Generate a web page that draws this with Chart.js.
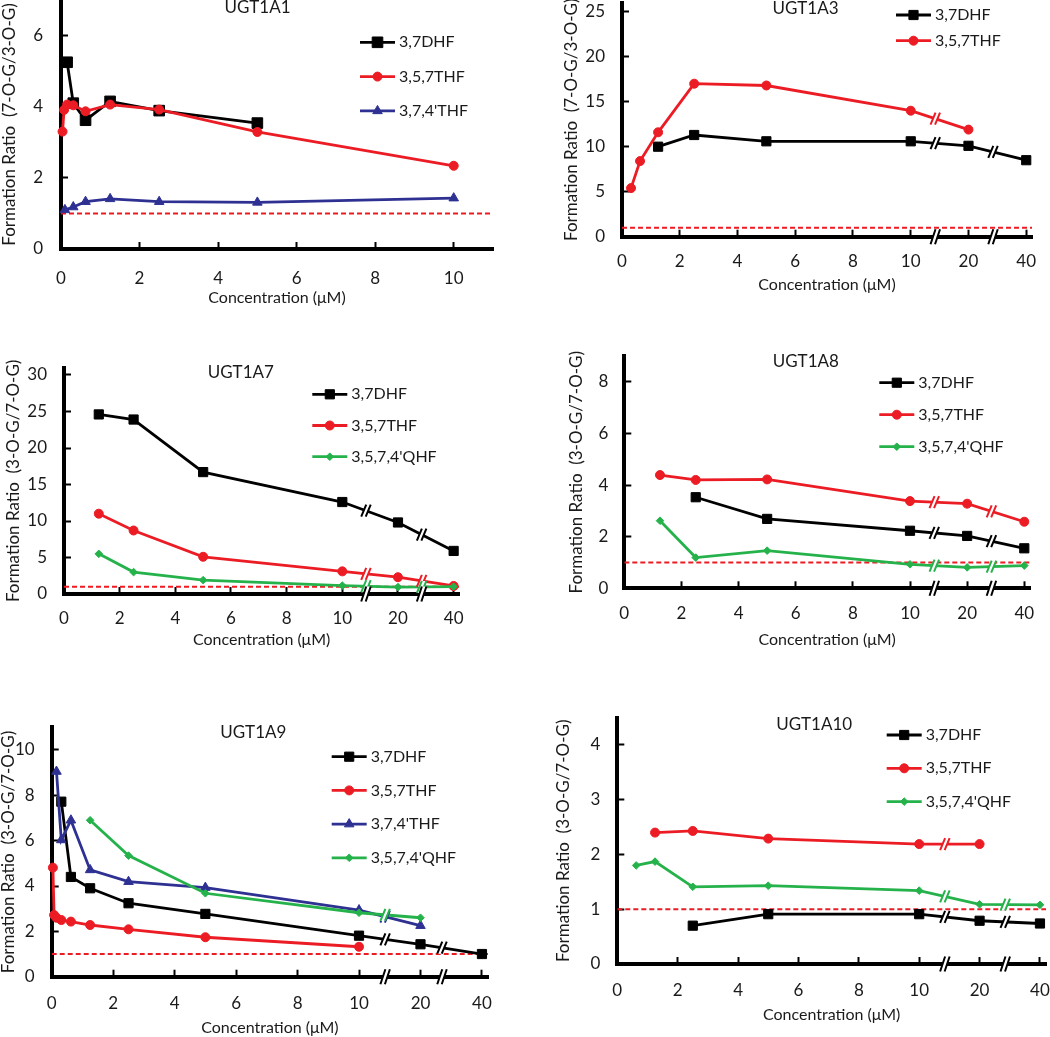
<!DOCTYPE html>
<html>
<head>
<meta charset="utf-8">
<script src="https://cdn.jsdelivr.net/npm/chart.js@4.4.0/dist/chart.umd.min.js"></script>
<style>
  body { margin: 0; background: #fff; overflow: hidden; }
  #page { position: relative; width: 1050px; height: 1037px; overflow: hidden; background: #fff; }
  #page canvas { position: absolute; }
</style>
</head>
<body>
<div id="page"></div>
<script>
const RED = '#ec1c24', BLUE = '#2e3192', GREEN = '#25b24b', TXT = '#1a1a1a';

// concentrations where the x axis is broken (10 | 20 | 40 sit 2 units apart)
const brokenConc = [10, 20, 40];
const refRatio = 1;

const xTicksPlain = [0, 2, 4, 6, 8, 10];
const xTicksBroken = [0, 2, 4, 6, 8, 10, 20, 40];

// UGT1A1  (7-O-G/3-O-G)
const a1_yTicks = [0, 2, 4, 6];
const a1_dhf_conc = [0.156, 0.3125, 0.625, 1.25, 2.5, 5];
const a1_dhf_ratio = [5.25, 4.1, 3.62, 4.15, 3.89, 3.54];
const a1_thf_conc = [0.039, 0.078, 0.156, 0.3125, 0.625, 1.25, 2.5, 5, 10];
const a1_thf_ratio = [3.3, 3.91, 4.06, 4.04, 3.87, 4.06, 3.92, 3.29, 2.34];
const a1_t74_conc = [0.1, 0.3125, 0.625, 1.25, 2.5, 5, 10];
const a1_t74_ratio = [1.1, 1.18, 1.33, 1.41, 1.33, 1.31, 1.43];

// UGT1A3  (7-O-G/3-O-G)
const a3_yTicks = [0, 5, 10, 15, 20, 25];
const a3_dhf_conc = [1.25, 2.5, 5, 10, 20, 40];
const a3_dhf_ratio = [10.0, 11.3, 10.6, 10.6, 10.1, 8.5];
const a3_thf_conc = [0.3125, 0.625, 1.25, 2.5, 5, 10, 20];
const a3_thf_ratio = [5.4, 8.4, 11.6, 17.0, 16.8, 14.0, 11.9];

// UGT1A7  (3-O-G/7-O-G)
const a7_yTicks = [0, 5, 10, 15, 20, 25, 30];
const a7_conc = [1.25, 2.5, 5, 10, 20, 40];
const a7_dhf_ratio = [24.6, 23.9, 16.7, 12.6, 9.8, 5.9];
const a7_thf_ratio = [11.0, 8.7, 5.1, 3.1, 2.3, 1.1];
const a7_qhf_ratio = [5.5, 3.0, 1.9, 1.15, 0.95, 1.0];

// UGT1A8  (3-O-G/7-O-G)
const a8_yTicks = [0, 2, 4, 6, 8];
const a8_dhf_conc = [2.5, 5, 10, 20, 40];
const a8_dhf_ratio = [3.53, 2.69, 2.23, 2.03, 1.55];
const a8_conc = [1.25, 2.5, 5, 10, 20, 40];
const a8_thf_ratio = [4.39, 4.2, 4.22, 3.38, 3.28, 2.58];
const a8_qhf_ratio = [2.62, 1.19, 1.46, 0.93, 0.81, 0.88];

// UGT1A9  (3-O-G/7-O-G)
const a9_yTicks = [0, 2, 4, 6, 8, 10];
const a9_dhf_conc = [0.3125, 0.625, 1.25, 2.5, 5, 10, 20, 40];
const a9_dhf_ratio = [7.72, 4.4, 3.9, 3.24, 2.77, 1.81, 1.43, 1.0];
const a9_thf_conc = [0.039, 0.078, 0.156, 0.3125, 0.625, 1.25, 2.5, 5, 10];
const a9_thf_ratio = [4.81, 2.72, 2.6, 2.5, 2.43, 2.28, 2.09, 1.74, 1.32];
const a9_t74_conc = [0.156, 0.3125, 0.625, 1.25, 2.5, 5, 10, 20];
const a9_t74_ratio = [9.05, 6.03, 6.9, 4.71, 4.19, 3.93, 2.94, 2.25];
const a9_qhf_conc = [1.25, 2.5, 5, 10, 20];
const a9_qhf_ratio = [6.9, 5.34, 3.68, 2.82, 2.6];

// UGT1A10  (3-O-G/7-O-G)
const a10_yTicks = [0, 1, 2, 3, 4];
const a10_dhf_conc = [2.5, 5, 10, 20, 40];
const a10_dhf_ratio = [0.70, 0.91, 0.91, 0.79, 0.74];
const a10_thf_conc = [1.25, 2.5, 5, 10, 20];
const a10_thf_ratio = [2.40, 2.43, 2.29, 2.19, 2.19];
const a10_qhf_conc = [0.625, 1.25, 2.5, 5, 10, 20, 40];
const a10_qhf_ratio = [1.80, 1.87, 1.41, 1.43, 1.34, 1.09, 1.08];

// map a concentration onto the (partly broken) x axis
function xPos(c) {
    if (c <= brokenConc[0]) return c;
    let i = brokenConc.findIndex(v => v >= c);
    const lo = brokenConc[i - 1], hi = brokenConc[i];
    return brokenConc[0] + 2 * (i - 1) + 2 * (c - lo) / (hi - lo);
}

const seriesStyle = {
    dhf: { label: '3,7DHF', color: '#000', pointStyle: 'rect', radius: 6.5, order: 4 },
    thf: { label: '3,5,7THF', color: RED, pointStyle: 'circle', radius: 4.5, order: 3 },
    t74: { label: "3,7,4'THF", color: BLUE, pointStyle: 'triangle', radius: 5.5, order: 2 },
    qhf: { label: "3,5,7,4'QHF", color: GREEN, pointStyle: 'rectRot', radius: 3.8, order: 1 }
};

function series(key, conc, ratio, radius) {
    const s = seriesStyle[key];
    return {
        key: key,
        label: s.label,
        data: conc.map((c, i) => ({ x: xPos(c), y: ratio[i] })),
        borderColor: s.color,
        backgroundColor: s.color,
        borderWidth: 2.8,
        pointStyle: s.pointStyle,
        pointRadius: radius || s.radius,
        pointBorderWidth: 1,
        order: s.order,
        clip: false
    };
}

function refLine(xMax) {
    return {
        isRef: true,
        data: [{ x: 0, y: refRatio }, { x: xMax, y: refRatio }],
        borderColor: RED,
        borderWidth: 2,
        borderDash: [5, 3],
        pointRadius: 0,
        order: 10
    };
}

function drawBreak(ctx, x, y, h, color) {
    const g = 4.5, s = 2.5;
    ctx.fillStyle = '#fff';
    ctx.beginPath();
    ctx.moveTo(x - g / 2 - s, y + h);
    ctx.lineTo(x - g / 2 + s, y - h);
    ctx.lineTo(x + g / 2 + s, y - h);
    ctx.lineTo(x + g / 2 - s, y + h);
    ctx.closePath();
    ctx.fill();
    ctx.strokeStyle = color;
    ctx.lineWidth = 2;
    ctx.beginPath();
    ctx.moveTo(x - g / 2 - s, y + h);
    ctx.lineTo(x - g / 2 + s, y - h);
    ctx.moveTo(x + g / 2 - s, y + h);
    ctx.lineTo(x + g / 2 + s, y - h);
    ctx.stroke();
}

// "//" marks on the axis and on every line that crosses a break
const breakPlugin = {
    id: 'breaks',
    afterDraw(chart, args, opts) {
        if (!opts.at || !opts.at.length) return;
        const ctx = chart.ctx, xs = chart.scales.x, ys = chart.scales.y;
        ctx.save();
        opts.at.forEach(b => {
            const px = xs.getPixelForValue(b);
            chart.data.datasets.forEach(ds => {
                if (ds.isRef) return;
                const p = ds.data;
                for (let k = 0; k < p.length - 1; k++) {
                    if (p[k].x < b && p[k + 1].x > b) {
                        const t = (b - p[k].x) / (p[k + 1].x - p[k].x);
                        const yv = p[k].y + t * (p[k + 1].y - p[k].y);
                        drawBreak(ctx, px, ys.getPixelForValue(yv), 6, ds.borderColor);
                    }
                }
            });
            drawBreak(ctx, px, ys.bottom, 7.5, '#000');
        });
        ctx.restore();
    }
};

// panel title and the in-plot legend
const panelTextPlugin = {
    id: 'panelText',
    afterDraw(chart, args, o) {
        const ctx = chart.ctx, a = chart.chartArea;
        ctx.save();
        ctx.fillStyle = TXT;
        ctx.font = '17px Lato';
        ctx.textAlign = 'center';
        ctx.textBaseline = 'middle';
        ctx.fillText(o.title, a.left + o.titleX, a.top + o.titleY);
        chart.data.datasets.filter(d => !d.isRef).forEach((ds, i) => {
            const x = a.left + o.legX, y = a.top + o.legY + i * o.legGap;
            ctx.strokeStyle = ds.borderColor;
            ctx.lineWidth = 2.8;
            ctx.beginPath();
            ctx.moveTo(x, y);
            ctx.lineTo(x + 35, y);
            ctx.stroke();
            ctx.fillStyle = ds.borderColor;
            ctx.lineWidth = 1;
            Chart.helpers.drawPoint(ctx, { pointStyle: ds.pointStyle, radius: ds.pointRadius, borderWidth: 1, rotation: 0 }, x + 17.5, y);
            ctx.fillStyle = TXT;
            ctx.textAlign = 'left';
            ctx.font = '16px Lato';
            ctx.fillText(ds.label, x + 39, y);
        });
        ctx.restore();
    }
};

Chart.defaults.font.family = 'Lato, "Open Sans", sans-serif';

function makePanel(p) {
    const g = p.geom;
    const yW = g.yTitle + 10.2, xH = g.xTitle + 9.6, PAD = 40;
    const left = Math.floor(g.l - yW), top = Math.floor(g.t - PAD);
    const w = Math.ceil(g.r + PAD - left), h = Math.ceil(g.b + xH - top);
    const cv = document.createElement('canvas');
    cv.width = w; cv.height = h;
    cv.style.left = left + 'px';
    cv.style.top = top + 'px';
    cv.style.width = w + 'px';
    cv.style.height = h + 'px';
    document.getElementById('page').appendChild(cv);

    const xLabels = p.xTicks;
    const datasets = p.series.concat([refLine(p.xMax)]);

    new Chart(cv.getContext('2d'), {
        type: 'line',
        data: { datasets: datasets },
        plugins: [breakPlugin, panelTextPlugin],
        options: {
            responsive: false,
            animation: false,
            devicePixelRatio: 1,
            layout: {
                padding: {
                    left: g.l - yW - left,
                    top: g.t - top,
                    right: w - (g.r - left),
                    bottom: h - (g.b + xH - top)
                }
            },
            plugins: {
                legend: { display: false },
                tooltip: { enabled: false },
                breaks: { at: p.breaks },
                panelText: p.text
            },
            scales: {
                x: {
                    type: 'linear',
                    min: 0,
                    max: p.xMax,
                    border: { color: '#000', width: 4 },
                    grid: { drawOnChartArea: false, tickLength: -7, tickWidth: 2, tickColor: '#000' },
                    ticks: {
                        padding: g.xLabel + 7 - 10.2,
                        font: { size: 17 },
                        color: TXT,
                        autoSkip: false,
                        maxRotation: 0,
                        callback: (v, i) => String(xLabels[i])
                    },
                    afterBuildTicks: s => { s.ticks = xLabels.map(c => ({ value: xPos(c) })); },
                    afterFit: s => { s.height = xH; },
                    title: { display: true, text: 'Concentration (μM)', font: { size: 16 }, color: TXT, padding: 0 }
                },
                y: {
                    type: 'linear',
                    min: 0,
                    max: p.yMax,
                    border: { color: '#000', width: 4 },
                    grid: { drawOnChartArea: false, tickLength: -7, tickWidth: 2, tickColor: '#000' },
                    ticks: { padding: g.yLabel + 7, font: { size: 17 }, color: TXT },
                    afterBuildTicks: s => { s.ticks = p.yTicks.map(v => ({ value: v })); },
                    afterFit: s => { s.width = yW; },
                    title: { display: true, text: p.yTitle, font: { size: 17 }, color: TXT, padding: 0 }
                }
            }
        }
    });
}

const breakAt = [10.85, 12.85];

makePanel({
    geom: { l: 61, t: 0, r: 493, b: 249, yTitle: 51, yLabel: 18, xLabel: 30, xTitle: 49 },
    xMax: 11, yMax: 7, xTicks: xTicksPlain, yTicks: a1_yTicks, breaks: [],
    yTitle: 'Formation Ratio  (7-O-G/3-O-G)',
    text: { title: 'UGT1A1', titleX: 196.5, titleY: 8, legX: 299, legY: 42.3, legGap: 34.3 },
    series: [
        series('dhf', a1_dhf_conc, a1_dhf_ratio, 7.5),
        series('thf', a1_thf_conc, a1_thf_ratio),
        series('t74', a1_t74_conc, a1_t74_ratio)
    ]
});

makePanel({
    geom: { l: 622, t: 2.7, r: 1032, b: 236.7, yTitle: 50.3, yLabel: 17, xLabel: 25, xTitle: 48.3 },
    xMax: 14.2, yMax: 26, xTicks: xTicksBroken, yTicks: a3_yTicks, breaks: breakAt,
    yTitle: 'Formation Ratio  (7-O-G/3-O-G)',
    text: { title: 'UGT1A3', titleX: 183.5, titleY: 5.6, legX: 274, legY: 12.3, legGap: 25.7 },
    series: [
        series('dhf', a3_dhf_conc, a3_dhf_ratio),
        series('thf', a3_thf_conc, a3_thf_ratio)
    ]
});

makePanel({
    geom: { l: 64, t: 367.7, r: 459.2, b: 594, yTitle: 50, yLabel: 17, xLabel: 24.3, xTitle: 46 },
    xMax: 14.2, yMax: 31, xTicks: xTicksBroken, yTicks: a7_yTicks, breaks: breakAt,
    yTitle: 'Formation Ratio  (3-O-G/7-O-G)',
    text: { title: 'UGT1A7', titleX: 176.8, titleY: 5.3, legX: 248.3, legY: 26.6, legGap: 31.2 },
    series: [
        series('dhf', a7_conc, a7_dhf_ratio),
        series('thf', a7_conc, a7_thf_ratio),
        series('qhf', a7_conc, a7_qhf_ratio)
    ]
});

makePanel({
    geom: { l: 624.3, t: 356.1, r: 1030, b: 588.3, yTitle: 47.6, yLabel: 16, xLabel: 25.7, xTitle: 52 },
    xMax: 14.2, yMax: 9, xTicks: xTicksBroken, yTicks: a8_yTicks, breaks: breakAt,
    yTitle: 'Formation Ratio  (3-O-G/7-O-G)',
    text: { title: 'UGT1A8', titleX: 181.5, titleY: 5.2, legX: 255, legY: 26.6, legGap: 32 },
    series: [
        series('dhf', a8_dhf_conc, a8_dhf_ratio),
        series('thf', a8_conc, a8_thf_ratio),
        series('qhf', a8_conc, a8_qhf_ratio)
    ]
});

makePanel({
    geom: { l: 51.7, t: 727.3, r: 488.1, b: 976.7, yTitle: 42.7, yLabel: 17, xLabel: 26.6, xTitle: 51 },
    xMax: 14.2, yMax: 11, xTicks: xTicksBroken, yTicks: a9_yTicks, breaks: [10.85, 12.7],
    yTitle: 'Formation Ratio  (3-O-G/7-O-G)',
    text: { title: 'UGT1A9', titleX: 201.6, titleY: 5.7, legX: 280, legY: 29.4, legGap: 33.7 },
    series: [
        series('dhf', a9_dhf_conc, a9_dhf_ratio),
        series('thf', a9_thf_conc, a9_thf_ratio),
        series('t74', a9_t74_conc, a9_t74_ratio),
        series('qhf', a9_qhf_conc, a9_qhf_ratio)
    ]
});

makePanel({
    geom: { l: 617.3, t: 717.6, r: 1046, b: 964, yTitle: 53.3, yLabel: 17, xLabel: 26.7, xTitle: 51 },
    xMax: 14.2, yMax: 4.5, xTicks: xTicksBroken, yTicks: a10_yTicks, breaks: breakAt,
    yTitle: 'Formation Ratio  (3-O-G/7-O-G)',
    text: { title: 'UGT1A10', titleX: 196.9, titleY: 6.9, legX: 269.4, legY: 17.4, legGap: 33.3 },
    series: [
        series('dhf', a10_dhf_conc, a10_dhf_ratio),
        series('thf', a10_thf_conc, a10_thf_ratio),
        series('qhf', a10_qhf_conc, a10_qhf_ratio)
    ]
});
</script>
</body>
</html>
